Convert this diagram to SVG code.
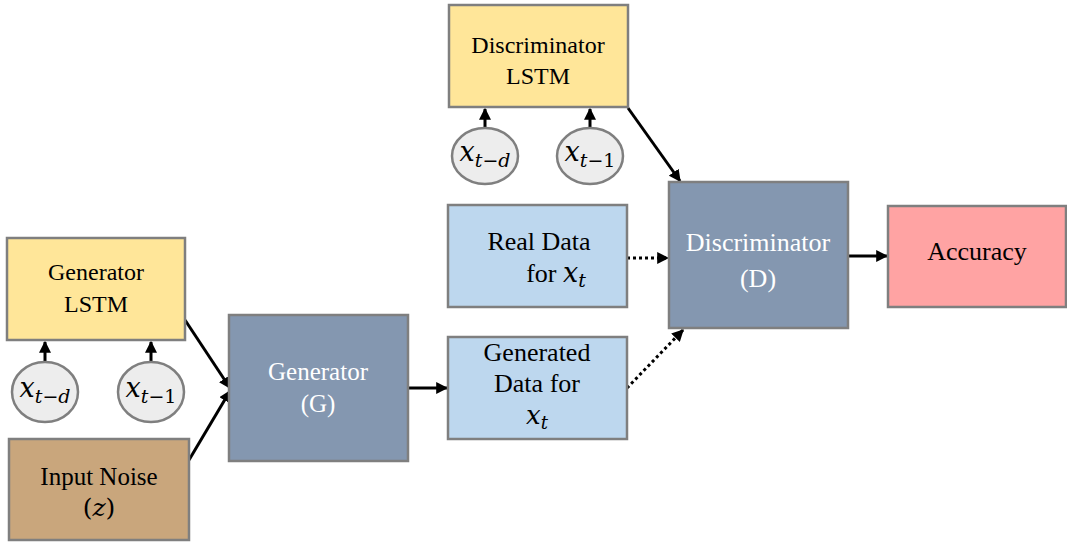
<svg xmlns="http://www.w3.org/2000/svg" width="1067" height="542" viewBox="0 0 1067 542">
<style>
text{font-family:'Liberation Serif',serif}
.box{stroke:#7F7F7F;stroke-width:2.5}
.yel{fill:#FFE699}
.blu{fill:#BDD7EE}
.stl{fill:#8497B0}
.brn{fill:#C9A67C}
.red{fill:#FFA3A3}
.cir{fill:#EDEDED;stroke:#7F7F7F;stroke-width:2.5}
.ln{stroke:#000;stroke-width:3;fill:none;marker-end:url(#ah)}
.dt{stroke:#000;stroke-width:3;fill:none;stroke-dasharray:3 3;marker-end:url(#ah)}
</style>
<defs>
<marker id="ah" viewBox="0 0 10 10" refX="9" refY="5" markerWidth="4" markerHeight="4" orient="auto" markerUnits="strokeWidth">
<path d="M0,0 L10,5 L0,10 Z" fill="#000"/>
</marker>
</defs>
<rect width="1067" height="542" fill="#FFFFFF"/>
<g id="connectors">
<line class="ln" x1="485" y1="128" x2="485" y2="109"/>
<line class="ln" x1="590" y1="128" x2="590" y2="109"/>
<line class="ln" x1="45" y1="362" x2="45" y2="342"/>
<line class="ln" x1="151" y1="362" x2="151" y2="342"/>
<line class="ln" x1="185" y1="320" x2="230" y2="388"/>
<line class="ln" x1="189" y1="460" x2="230" y2="391"/>
<line class="ln" x1="408" y1="388" x2="447" y2="388"/>
<line class="dt" x1="627" y1="258" x2="668" y2="258"/>
<line class="dt" x1="627" y1="388" x2="683" y2="330"/>
<line class="ln" x1="628" y1="108" x2="680" y2="181"/>
<line class="ln" x1="848" y1="256" x2="887" y2="256"/>
</g>
<g id="disc-lstm">
<rect class="box yel" x="449" y="5" width="179" height="102"/>
<text x="538" y="53" style="font-family:'Liberation Serif',serif;font-size:24px" text-anchor="middle" fill="#000">Discriminator</text>
<text x="538" y="84" style="font-family:'Liberation Serif',serif;font-size:24px" text-anchor="middle" fill="#000">LSTM</text>
</g>
<g id="disc-xtd">
<ellipse class="cir" cx="485" cy="156" rx="33" ry="28"/>
<text x="485" y="161" style="font-family:'DejaVu Serif',serif;font-size:27px;font-style:italic" text-anchor="middle" fill="#000">x<tspan font-size="19" dy="6">t−d</tspan></text>
</g>
<g id="disc-xt1">
<ellipse class="cir" cx="590" cy="156" rx="33" ry="28"/>
<text x="590" y="161" style="font-family:'DejaVu Serif',serif;font-size:27px;font-style:italic" text-anchor="middle" fill="#000">x<tspan font-size="19" dy="6">t−<tspan font-style="normal">1</tspan></tspan></text>
</g>
<g id="gen-lstm">
<rect class="box yel" x="7" y="238" width="178" height="102"/>
<text x="96" y="280" style="font-family:'Liberation Serif',serif;font-size:24px" text-anchor="middle" fill="#000">Generator</text>
<text x="96" y="312" style="font-family:'Liberation Serif',serif;font-size:24px" text-anchor="middle" fill="#000">LSTM</text>
</g>
<g id="gen-xtd">
<ellipse class="cir" cx="45" cy="392" rx="33" ry="30"/>
<text x="45" y="397" style="font-family:'DejaVu Serif',serif;font-size:27px;font-style:italic" text-anchor="middle" fill="#000">x<tspan font-size="19" dy="6">t−d</tspan></text>
</g>
<g id="gen-xt1">
<ellipse class="cir" cx="151" cy="392" rx="33" ry="30"/>
<text x="151" y="397" style="font-family:'DejaVu Serif',serif;font-size:27px;font-style:italic" text-anchor="middle" fill="#000">x<tspan font-size="19" dy="6">t−<tspan font-style="normal">1</tspan></tspan></text>
</g>
<g id="input-noise">
<rect class="box brn" x="9" y="439" width="180" height="101"/>
<text x="99" y="485" style="font-family:'Liberation Serif',serif;font-size:25px" text-anchor="middle" fill="#000">Input Noise</text>
<text x="99" y="516" style="font-family:'DejaVu Serif',serif;font-size:25px" text-anchor="middle" fill="#000">(<tspan font-style="italic">z</tspan>)</text>
</g>
<g id="generator">
<rect class="box stl" x="229" y="315" width="179" height="146"/>
<text x="318" y="380" style="font-family:'Liberation Serif',serif;font-size:25px" text-anchor="middle" fill="#FFFFFF">Generator</text>
<text x="318" y="412" style="font-family:'Liberation Serif',serif;font-size:25px" text-anchor="middle" fill="#FFFFFF">(G)</text>
</g>
<g id="real-data">
<rect class="box blu" x="448" y="205" width="179" height="102"/>
<text x="539" y="250" style="font-family:'Liberation Serif',serif;font-size:26px" text-anchor="middle" fill="#000">Real Data</text>
<text x="556" y="282" style="font-family:'Liberation Serif',serif;font-size:26px" text-anchor="middle" fill="#000">for <tspan style="font-family:'DejaVu Serif',serif;font-style:italic;font-size:27px">x<tspan font-size="19" dy="5">t</tspan></tspan></text>
</g>
<g id="generated-data">
<rect class="box blu" x="448" y="337" width="179" height="102"/>
<text x="537" y="361" style="font-family:'Liberation Serif',serif;font-size:26px" text-anchor="middle" fill="#000">Generated</text>
<text x="537" y="392" style="font-family:'Liberation Serif',serif;font-size:26px" text-anchor="middle" fill="#000">Data for</text>
<text x="537" y="424" style="font-family:'DejaVu Serif',serif;font-size:26px;font-style:italic" text-anchor="middle" fill="#000">x<tspan font-size="18" dy="5">t</tspan></text>
</g>
<g id="discriminator">
<rect class="box stl" x="669" y="182" width="179" height="146"/>
<text x="758" y="251" style="font-family:'Liberation Serif',serif;font-size:26px" text-anchor="middle" fill="#FFFFFF">Discriminator</text>
<text x="758" y="287" style="font-family:'Liberation Serif',serif;font-size:26px" text-anchor="middle" fill="#FFFFFF">(D)</text>
</g>
<g id="accuracy">
<rect class="box red" x="888" y="206" width="178" height="101"/>
<text x="977" y="260" style="font-family:'Liberation Serif',serif;font-size:26px" text-anchor="middle" fill="#000">Accuracy</text>
</g>
</svg>
